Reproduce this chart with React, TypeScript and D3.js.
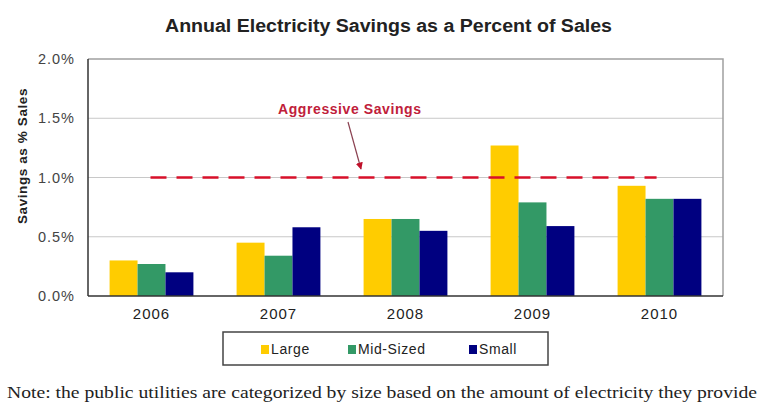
import * as d3 from "d3";
import { useEffect, useRef } from "react";

const years = ["2006", "2007", "2008", "2009", "2010"];
const seriesNames = ["Large", "Mid-Sized", "Small"];
const large = [0.3, 0.45, 0.65, 1.27, 0.93];
const midSized = [0.27, 0.34, 0.65, 0.79, 0.82];
const small = [0.2, 0.58, 0.55, 0.59, 0.82];
const yTicks = [0, 0.5, 1.0, 1.5, 2.0];
const target = 1.0;
const colors = ["#FFCC00", "#339966", "#000080"];

export default function App() {
  const ref = useRef<SVGSVGElement | null>(null);

  useEffect(() => {
    if (!ref.current) return;
    const svg = d3.select(ref.current);
    svg.selectAll("*").remove();

    const W = 768;
    const H = 415;
    const margin = { top: 59, right: 45, bottom: 119, left: 88 };
    const width = W - margin.left - margin.right;
    const height = H - margin.top - margin.bottom;
    const font = "Liberation Sans, Arial, sans-serif";

    svg.attr("width", W).attr("height", H);

    const rows = years.map((year, i) => ({
      year,
      values: [large[i], midSized[i], small[i]],
    }));

    const x = d3
      .scaleBand()
      .domain(years)
      .range([0, width])
      .paddingInner(0.34)
      .paddingOuter(0.17);
    const x1 = d3.scaleBand().domain(seriesNames).range([0, x.bandwidth()]);
    const y = d3.scaleLinear().domain([0, 2]).range([height, 0]);

    // title
    svg
      .append("text")
      .attr("x", 165)
      .attr("y", 32)
      .attr("textLength", 447)
      .attr("lengthAdjust", "spacingAndGlyphs")
      .style("font-family", font)
      .style("font-size", "17.5px")
      .style("font-weight", "bold")
      .style("fill", "#222")
      .text("Annual Electricity Savings as a Percent of Sales");

    const g = svg
      .append("g")
      .attr("transform", `translate(${margin.left},${margin.top})`);

    // grid
    g.selectAll("line.grid")
      .data(yTicks.filter((t) => t > 0 && t < 2))
      .enter()
      .append("line")
      .attr("class", "grid")
      .attr("x1", 0)
      .attr("x2", width)
      .attr("y1", (d) => y(d))
      .attr("y2", (d) => y(d))
      .attr("stroke", "#c8c8c8")
      .attr("stroke-width", 1);

    // plot frame (top, right)
    g.append("path")
      .attr("d", `M0,0H${width}V${height}`)
      .attr("fill", "none")
      .attr("stroke", "#a0a0a0")
      .attr("stroke-width", 1.5);

    // bars
    g.selectAll("g.year")
      .data(rows)
      .enter()
      .append("g")
      .attr("transform", (d) => `translate(${x(d.year)},0)`)
      .selectAll("rect")
      .data((d) => d.values.map((v, i) => ({ v, i })))
      .enter()
      .append("rect")
      .attr("x", (d) => x1(seriesNames[d.i])!)
      .attr("y", (d) => y(d.v))
      .attr("width", x1.bandwidth())
      .attr("height", (d) => height - y(d.v))
      .attr("fill", (d) => colors[d.i]);

    // aggressive savings target
    g.append("line")
      .attr("x1", x("2006")! + x.bandwidth() / 2 - 1)
      .attr("x2", x("2010")! + 39)
      .attr("y1", y(target))
      .attr("y2", y(target))
      .attr("stroke", "#d8102a")
      .attr("stroke-width", 2.5)
      .attr("stroke-dasharray", "16,10");

    // axes
    g.append("line")
      .attr("x1", 0)
      .attr("x2", 0)
      .attr("y1", 0)
      .attr("y2", height)
      .attr("stroke", "#333")
      .attr("stroke-width", 1.5);
    g.append("line")
      .attr("x1", 0)
      .attr("x2", width)
      .attr("y1", height)
      .attr("y2", height)
      .attr("stroke", "#333")
      .attr("stroke-width", 1.5);

    g.selectAll("text.ytick")
      .data(yTicks)
      .enter()
      .append("text")
      .attr("class", "ytick")
      .attr("x", -13)
      .attr("y", (d) => y(d))
      .attr("dy", "0.35em")
      .attr("text-anchor", "end")
      .style("font-family", font)
      .style("font-size", "14.5px")
      .style("letter-spacing", "1px")
      .style("fill", "#444")
      .text((d) => d3.format(".1f")(d) + "%");

    g.selectAll("text.xtick")
      .data(years)
      .enter()
      .append("text")
      .attr("class", "xtick")
      .attr("x", (d) => x(d)! + x.bandwidth() / 2)
      .attr("y", height + 23)
      .attr("text-anchor", "middle")
      .style("font-family", font)
      .style("font-size", "15px")
      .style("letter-spacing", "1px")
      .style("fill", "#222")
      .text((d) => d);

    // y axis title
    svg
      .append("text")
      .attr("transform", `translate(27,156) rotate(-90)`)
      .attr("text-anchor", "middle")
      .style("font-family", font)
      .style("font-size", "13.5px")
      .style("font-weight", "bold")
      .style("letter-spacing", "0.6px")
      .style("fill", "#222")
      .text("Savings as % Sales");

    // annotation
    svg
      .append("defs")
      .append("marker")
      .attr("id", "arrow")
      .attr("viewBox", "0 0 10 10")
      .attr("refX", 9)
      .attr("refY", 5)
      .attr("markerWidth", 6)
      .attr("markerHeight", 6)
      .attr("orient", "auto")
      .append("path")
      .attr("d", "M0,0L10,5L0,10z")
      .attr("fill", "#c0102a");

    svg
      .append("text")
      .attr("x", 278)
      .attr("y", 114)
      .attr("textLength", 143)
      .attr("lengthAdjust", "spacing")
      .style("font-family", font)
      .style("font-size", "14px")
      .style("font-weight", "bold")
      .style("fill", "#c0203a")
      .text("Aggressive Savings");

    svg
      .append("line")
      .attr("x1", 348)
      .attr("y1", 122)
      .attr("x2", 361)
      .attr("y2", 169)
      .attr("stroke", "#8a4050")
      .attr("stroke-width", 1.2)
      .attr("marker-end", "url(#arrow)");

    // legend
    const legend = svg.append("g").attr("transform", "translate(223,332)");
    legend
      .append("rect")
      .attr("width", 325)
      .attr("height", 33)
      .attr("fill", "#fff")
      .attr("stroke", "#444")
      .attr("stroke-width", 1.5);
    const legendX = [38, 125, 246];
    seriesNames.forEach((name, i) => {
      legend
        .append("rect")
        .attr("x", legendX[i])
        .attr("y", 13)
        .attr("width", 8)
        .attr("height", 9)
        .attr("fill", colors[i]);
      legend
        .append("text")
        .attr("x", legendX[i] + 10)
        .attr("y", 17)
        .attr("dy", "0.35em")
        .style("font-family", font)
        .style("font-size", "14px")
        .style("letter-spacing", "0.6px")
        .style("fill", "#222")
        .text(name);
    });

    // note
    svg
      .append("text")
      .attr("x", 7)
      .attr("y", 398)
      .attr("textLength", 750)
      .attr("lengthAdjust", "spacingAndGlyphs")
      .style("font-family", "Liberation Serif, Times New Roman, serif")
      .style("font-size", "17px")
      .style("fill", "#222")
      .text(
        "Note: the public utilities are categorized by size based on the amount of electricity they provide"
      );
  }, []);

  return (
    <svg
      ref={ref}
      style={{ position: "absolute", left: 0, top: 0, background: "#fff" }}
    ></svg>
  );
}
